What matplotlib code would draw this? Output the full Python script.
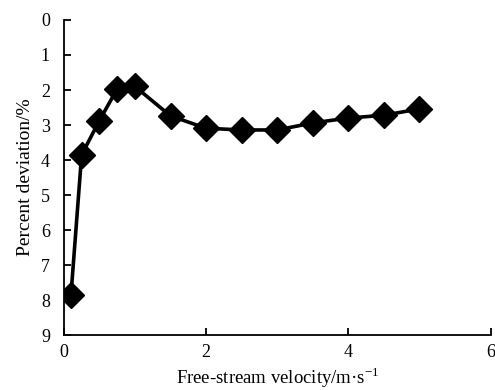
import matplotlib.pyplot as plt

# === DATA ===
velocity = [0.1, 0.25, 0.5, 0.75, 1.0, 1.5, 2.0, 2.5, 3.0, 3.5, 4.0, 4.5, 5.0]
deviation = [7.85, 3.85, 2.87, 1.97, 1.9, 2.74, 3.09, 3.14, 3.14, 2.94, 2.8, 2.72, 2.54]

plt.rcParams['font.family'] = ['Liberation Serif', 'DejaVu Serif']
plt.rcParams['mathtext.fontset'] = 'custom'
plt.rcParams['mathtext.rm'] = 'Liberation Serif'

fig = plt.figure(figsize=(4.95, 3.9), dpi=100)
ax = fig.add_axes([0.129, 0.14, 0.862, 0.809])

ax.plot(velocity, deviation, color='black', linewidth=2.6,
        marker='D', markersize=13, markerfacecolor='black', markeredgecolor='black')

ax.set_xlim(0, 6)
ax.set_ylim(9, 0)
ax.set_xticks([0, 2, 4, 6])
ax.set_yticks(range(0, 10))

ax.spines['top'].set_visible(False)
ax.spines['right'].set_visible(False)
for s in ['left', 'bottom']:
    ax.spines[s].set_linewidth(1.3)
ax.tick_params(direction='in', length=5, width=1.3, labelsize=13)
ax.tick_params(axis='x', pad=6)
ax.tick_params(axis='y', pad=10)

ax.set_xlabel('Free-stream velocity/m·s$^{\\mathregular{-1}}$', fontsize=13.5, labelpad=3)
ax.set_ylabel('Percent deviation/%', fontsize=14, labelpad=5)

plt.savefig('out.png', dpi=100)
